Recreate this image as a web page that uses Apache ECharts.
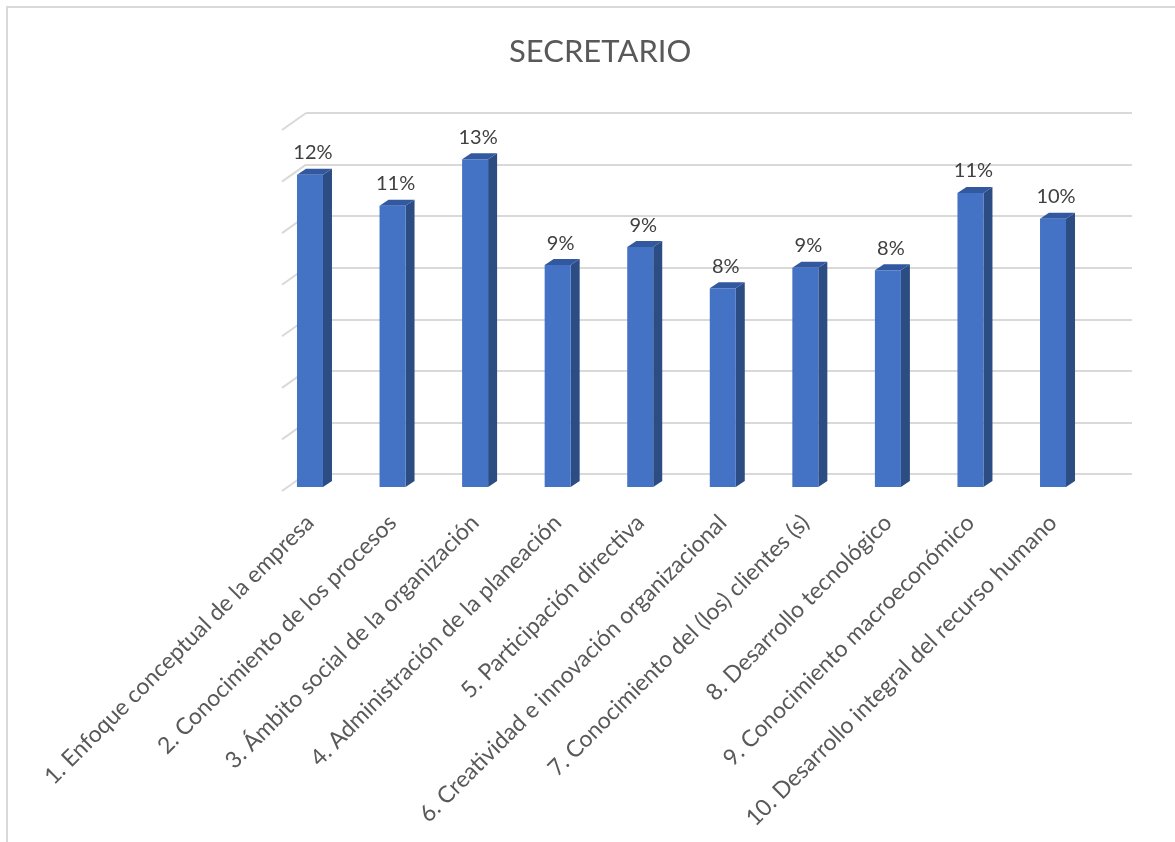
<!DOCTYPE html>
<html>
<head>
<meta charset="utf-8">
<script src="https://cdn.jsdelivr.net/npm/echarts@6/dist/echarts.min.js"></script>
<style>
html,body{margin:0;padding:0;background:#fff;}
#chart{width:1175px;height:842px;}
</style>
</head>
<body>
<div id="chart"></div>
<script>
// ---- data ----
const chartTitle = 'SECRETARIO';
const categories = [
  '1. Enfoque conceptual de la empresa',
  '2. Conocimiento de los procesos',
  '3. Ámbito social de la organización',
  '4. Administración de la planeación',
  '5. Participación directiva',
  '6. Creatividad e innovación organizacional',
  '7. Conocimiento del (los) clientes (s)',
  '8. Desarrollo tecnológico',
  '9. Conocimiento macroeconómico',
  '10. Desarrollo integral del recurso humano'
];
const values = [12.1, 10.9, 12.7, 8.6, 9.3, 7.7, 8.5, 8.4, 11.4, 10.4];
const gridValues = [0, 2, 4, 6, 8, 10, 12, 14];

// ---- chart ----
const chart = echarts.init(document.getElementById('chart'));
const FONT = 'Lato';

function renderBar(params, api) {
  const idx = api.value(0);
  const v = api.value(1);
  const top = api.coord([idx, v]);
  const base = api.coord([idx, 0]);
  const w = 26, dx = 9, dy = 6;
  const x0 = top[0] - w / 2, x1 = top[0] + w / 2;
  return {
    type: 'group',
    children: [
      { type: 'polygon', shape: { points: [[x1, top[1]], [x1 + dx, top[1] - dy], [x1 + dx, base[1] - dy], [x1, base[1]]] },
        style: { fill: '#2C4C84' } },
      { type: 'polygon', shape: { points: [[x0, top[1]], [x0 + dx, top[1] - dy], [x1 + dx, top[1] - dy], [x1, top[1]]] },
        style: { fill: '#3258A0' } },
      { type: 'rect', shape: { x: x0, y: top[1], width: w, height: base[1] - top[1] },
        style: { fill: '#4472C4' } },
      { type: 'text', style: { text: Math.round(v) + '%', x: top[0] + 3, y: top[1] - 12,
          align: 'center', verticalAlign: 'bottom', fill: '#404040', fontSize: 20, fontFamily: FONT } }
    ]
  };
}

function renderStub(params, api) {
  const p = api.coord([0, api.value(0)]);
  return {
    type: 'line',
    shape: { x1: p[0] - 24, y1: p[1] + 17, x2: p[0], y2: p[1] },
    style: { stroke: '#D9D9D9', lineWidth: 2 }
  };
}

chart.setOption({
  backgroundColor: '#ffffff',
  animation: false,
  title: {
    text: chartTitle,
    left: 504,
    top: 31,
    textStyle: { color: '#595959', fontSize: 31, fontWeight: 'normal', fontFamily: FONT }
  },
  graphic: [
    { type: 'rect', shape: { x: 7, y: 7, width: 1300, height: 1000 }, style: { fill: 'none', stroke: '#D9D9D9', lineWidth: 2 }, silent: true, z: -10 }
  ],
  grid: [
    { left: 306, right: 43, top: 113, bottom: 368 },
    { left: 268.7, right: 80.7, top: 125.8, bottom: 355 }
  ],
  xAxis: [
    { gridIndex: 0, type: 'value', min: 0, max: 1, show: false },
    { gridIndex: 1, type: 'category', data: categories,
      axisLine: { show: false }, axisTick: { show: false },
      axisLabel: { interval: 0, rotate: 45, margin: 32, color: '#595959', fontSize: 23, fontFamily: FONT } }
  ],
  yAxis: [
    { gridIndex: 0, type: 'value', min: 0, max: 14, interval: 2,
      axisLine: { show: false }, axisTick: { show: false }, axisLabel: { show: false },
      splitLine: { lineStyle: { color: '#D9D9D9', width: 2 } } },
    { gridIndex: 1, type: 'value', min: 0, max: 14, interval: 2, show: false, splitLine: { show: false } }
  ],
  series: [
    { type: 'custom', xAxisIndex: 0, yAxisIndex: 0, data: gridValues.map(v => [v]),
      encode: { y: 0 }, renderItem: renderStub, silent: true },
    { type: 'custom', xAxisIndex: 1, yAxisIndex: 1, data: values.map((v, i) => [i, v]),
      encode: { x: 0, y: 1 }, renderItem: renderBar, z: 5 }
  ]
});
</script>
</body>
</html>
